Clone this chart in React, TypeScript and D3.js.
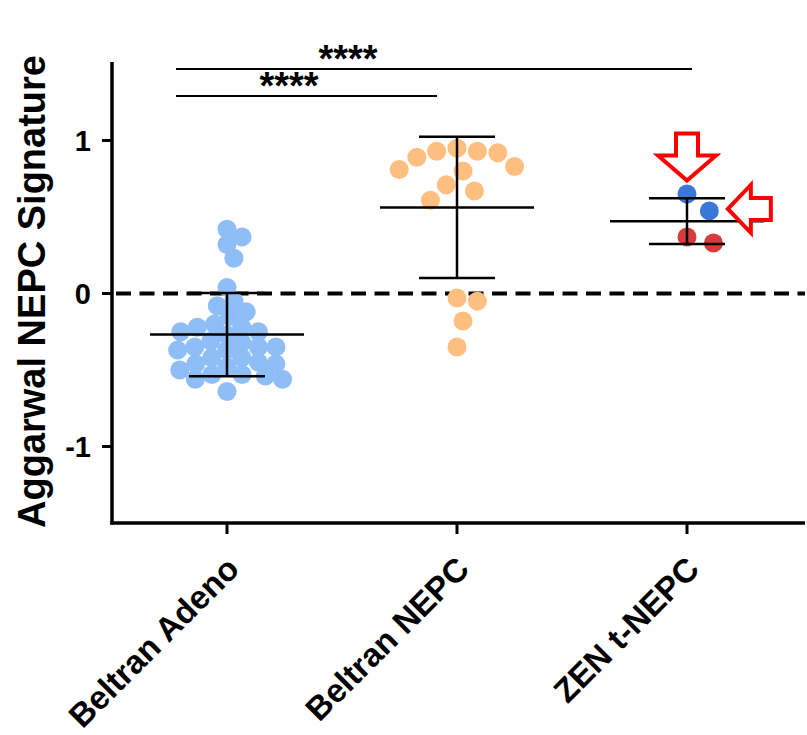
import React from "react";
import * as d3 from "d3";

// Groups along the x axis
const CATEGORIES = ["Beltran Adeno", "Beltran NEPC", "ZEN t-NEPC"];

// Aggarwal NEPC signature score per sample
const ADENO_SCORES = [
  0.37, 0.42, 0.32, 0.23, 0.04, -0.08, -0.05, -0.15, -0.12, -0.22, -0.25, -0.22,
  -0.2, -0.27, -0.25, -0.32, -0.35, -0.37, -0.42, -0.37, -0.35, -0.35, -0.31,
  -0.46, -0.45, -0.48, -0.53, -0.56, -0.64, -0.56, -0.54, -0.53, -0.46, -0.42, -0.5,
];
const NEPC_SCORES = [
  0.93, 0.92, 0.83, 0.81, 0.89, 0.93, 0.95, 0.8, 0.71, 0.61, 0.67, -0.03, -0.05,
  -0.18, -0.35,
];
const ZEN_SCORES = [0.65, 0.54, 0.33, 0.37];
// ZEN samples marked with arrows
const ZEN_FLAGGED = [true, true, false, false];

const Y_TICKS = [-1, 0, 1];

// Pairwise comparisons: [from group, to group, label]
const COMPARISONS: [number, number, string][] = [
  [0, 1, "****"],
  [0, 2, "****"],
];

const W = 807;
const H = 735;
const FONT = "'Liberation Sans', Arial, Helvetica, sans-serif";

const ADENO_COLOR = "#8fbef6";
const NEPC_COLOR = "#ffbf80";
const FLAG_COLOR = "#3a78d8";
const OTHER_COLOR = "#d93a3a";

// Beeswarm: each dot goes as close to the centre line as an elliptical
// keep-out zone (half-axes dX, dY around placed dots) allows.
function dodge(vals: number[], y: (v: number) => number, dX: number, dY: number) {
  const order = d3.range(vals.length).sort((a, b) => vals[b] - vals[a]);
  const placed: { x: number; y: number }[] = [];
  const out = new Array(vals.length).fill(0);
  for (const i of order) {
    const yi = y(vals[i]);
    const cands = [0];
    for (const p of placed) {
      const dy = Math.abs(yi - p.y);
      if (dy < dY) {
        const dx = dX * Math.sqrt(1 - (dy / dY) ** 2);
        cands.push(p.x + dx, p.x - dx);
      }
    }
    cands.sort((a, b) => Math.abs(a) - Math.abs(b) || b - a);
    let best = 0;
    for (const c of cands) {
      const ok = placed.every(
        (p) => ((c - p.x) / dX) ** 2 + ((yi - p.y) / dY) ** 2 >= 0.999
      );
      if (ok) {
        best = c;
        break;
      }
    }
    placed.push({ x: best, y: yi });
    out[i] = best;
  }
  return out;
}

export default function App() {
  const x = d3.scalePoint<string>().domain(CATEGORIES).range([112, 802]).padding(0.5);
  const y = d3.scaleLinear().domain([-1.5, 1.5]).range([523, 64]);
  const r = 9.5;

  const groups = [
    { name: CATEGORIES[0], vals: ADENO_SCORES, colors: ADENO_SCORES.map(() => ADENO_COLOR), dX: 17.5, dY: 15 },
    { name: CATEGORIES[1], vals: NEPC_SCORES, colors: NEPC_SCORES.map(() => NEPC_COLOR), dX: 20.5, dY: 24 },
    {
      name: CATEGORIES[2],
      vals: ZEN_SCORES,
      colors: ZEN_FLAGGED.map((f) => (f ? FLAG_COLOR : OTHER_COLOR)),
      dX: 27,
      dY: 30,
    },
  ].map((g) => ({ ...g, offs: dodge(g.vals, y, g.dX, g.dY) }));

  const xAxisY = y(-1.5);
  const axisLeft = 112;
  const axisRight = 805;

  // Arrows pointing at the flagged ZEN samples
  const zen = groups[2];
  const zx = x(zen.name) as number;
  const flaggedIdx = ZEN_FLAGGED.map((f, i) => (f ? i : -1)).filter((i) => i >= 0);
  const topIdx = flaggedIdx.reduce((a, b) => (ZEN_SCORES[a] > ZEN_SCORES[b] ? a : b));
  const sideIdx = flaggedIdx.find((i) => i !== topIdx) as number;
  const tx = zx + zen.offs[topIdx];
  const ty = y(ZEN_SCORES[topIdx]) - r - 4;
  const downArrow = [
    [tx, ty],
    [tx + 29, ty - 25],
    [tx + 11, ty - 25],
    [tx + 11, ty - 47],
    [tx - 11, ty - 47],
    [tx - 11, ty - 25],
    [tx - 29, ty - 25],
  ];
  const sx = zx + zen.offs[sideIdx] + r + 9;
  const sy = y(ZEN_SCORES[sideIdx]) - 2;
  const leftArrow = [
    [sx, sy],
    [sx + 23, sy - 24],
    [sx + 23, sy - 11],
    [sx + 43, sy - 11],
    [sx + 43, sy + 11],
    [sx + 23, sy + 11],
    [sx + 23, sy + 24],
  ];
  const poly = (pts: number[][]) => pts.map((p) => p.join(",")).join(" ");

  return (
    <svg
      width={W}
      height={H}
      style={{ position: "absolute", left: 0, top: 0, background: "#fff" }}
      fontFamily={FONT}
    >
      {/* zero reference line */}
      <line
        x1={axisLeft + 4}
        x2={axisRight}
        y1={y(0)}
        y2={y(0)}
        stroke="#000"
        strokeWidth={4}
        strokeDasharray="15 8.5"
      />

      {/* dots */}
      {groups.map((g) => {
        const cx = x(g.name) as number;
        return (
          <g key={g.name}>
            {g.vals.map((v, i) => (
              <circle key={i} cx={cx + g.offs[i]} cy={y(v)} r={r} fill={g.colors[i]} />
            ))}
          </g>
        );
      })}

      {/* mean ± SD */}
      {groups.map((g) => {
        const cx = x(g.name) as number;
        const m = d3.mean(g.vals) as number;
        const s = d3.deviation(g.vals) as number;
        return (
          <g key={"err" + g.name} stroke="#000" strokeWidth={2.5}>
            <line x1={cx - 77} x2={cx + 77} y1={y(m)} y2={y(m)} />
            <line x1={cx} x2={cx} y1={y(m + s)} y2={y(m - s)} />
            <line x1={cx - 38} x2={cx + 38} y1={y(m + s)} y2={y(m + s)} />
            <line x1={cx - 38} x2={cx + 38} y1={y(m - s)} y2={y(m - s)} />
          </g>
        );
      })}

      {/* arrows */}
      <polygon points={poly(downArrow)} fill="#fff" stroke="#ff0000" strokeWidth={4} />
      <polygon points={poly(leftArrow)} fill="#fff" stroke="#ff0000" strokeWidth={4} />

      {/* y axis */}
      <line x1={axisLeft} x2={axisLeft} y1={62} y2={xAxisY + 1.5} stroke="#000" strokeWidth={3.5} />
      {Y_TICKS.map((t) => (
        <g key={t}>
          <line x1={axisLeft - 10} x2={axisLeft} y1={y(t)} y2={y(t)} stroke="#000" strokeWidth={3} />
          <text
            x={axisLeft - 21}
            y={y(t)}
            dy="0.36em"
            textAnchor="end"
            fontSize={29}
            fontWeight="bold"
          >
            {t}
          </text>
        </g>
      ))}
      <text
        transform={`translate(45, ${y(0) - 2}) rotate(-90)`}
        textAnchor="middle"
        fontSize={38}
        fontWeight="bold"
      >
        Aggarwal NEPC Signature
      </text>

      {/* x axis */}
      <line x1={axisLeft - 1.75} x2={axisRight} y1={xAxisY} y2={xAxisY} stroke="#000" strokeWidth={3.5} />
      {CATEGORIES.map((c) => {
        const cx = x(c) as number;
        return (
          <g key={c}>
            <line x1={cx} x2={cx} y1={xAxisY} y2={xAxisY + 11} stroke="#000" strokeWidth={3} />
            <text
              transform={`translate(${cx + 14}, ${xAxisY + 48}) rotate(-45)`}
              textAnchor="end"
              fontSize={33}
              fontWeight="bold"
            >
              {c}
            </text>
          </g>
        );
      })}

      {/* significance brackets */}
      {COMPARISONS.map(([a, b, label], k) => {
        const xa = x(CATEGORIES[a]) as number;
        const xb = x(CATEGORIES[b]) as number;
        const ly = k === 0 ? 96 : 69;
        const x1 = xa - 51;
        const x2 = b === 2 ? xb + 5 : xb - 20;
        const lx = k === 0 ? xa + 62 : xa + 121;
        return (
          <g key={k}>
            <line x1={x1} x2={x2} y1={ly} y2={ly} stroke="#000" strokeWidth={2} />
            <text x={lx} y={ly + 3} textAnchor="middle" fontSize={38} fontWeight="bold">
              {label}
            </text>
          </g>
        );
      })}
    </svg>
  );
}
